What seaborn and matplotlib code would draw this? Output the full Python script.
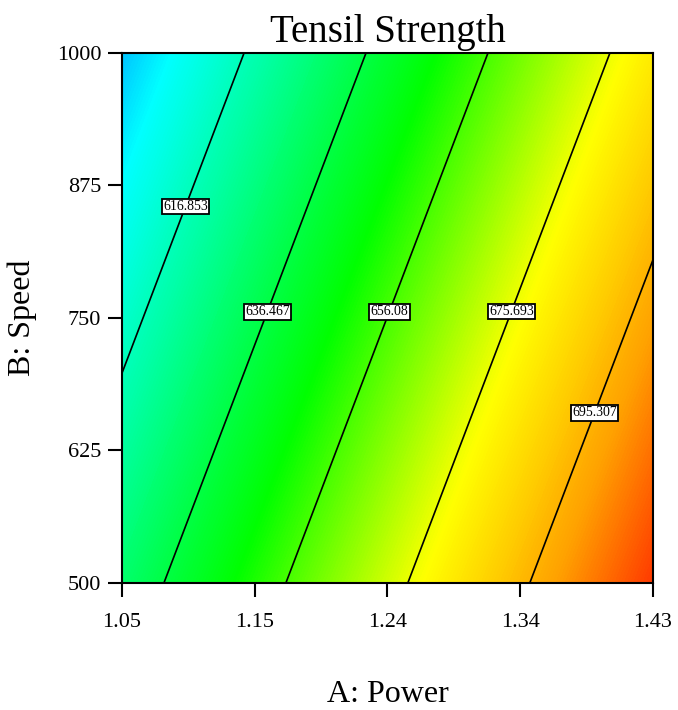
import matplotlib
matplotlib.use("Agg")
import matplotlib.pyplot as plt
from matplotlib.colors import LinearSegmentedColormap
import numpy
import pandas as pd
import seaborn as sns

# design points (A: Power, B: Speed) and predicted tensile strength
power = [1.05, 1.145, 1.24, 1.335, 1.43]
power_labels = ["1.05", "1.15", "1.24", "1.34", "1.43"]
speed = [500, 625, 750, 875, 1000]
speed_labels = ["500", "625", "750", "875", "1000"]

strength_500 = [629.73, 651.07, 672.42, 693.76, 715.11]
strength_625 = [621.60, 642.95, 664.30, 685.64, 706.99]
strength_750 = [613.48, 634.82, 656.17, 677.51, 698.86]
strength_875 = [605.36, 626.70, 648.05, 669.39, 690.74]
strength_1000 = [597.23, 618.57, 639.92, 661.26, 682.61]

levels = [616.853, 636.467, 656.08, 675.693, 695.307]

# where the contour labels sit
label_spots = [(1.0915, 857), (1.1516, 757), (1.239, 757), (1.327, 757), (1.387, 661)]

df = pd.DataFrame([strength_500, strength_625, strength_750, strength_875, strength_1000],
                  index=speed, columns=power)

# design-expert-ish colours
cmin, cmax = 597.0, 724.0
stops = [(597.0, "#00c3ff"), (605.0, "#00ffff"), (648.0, "#00ff00"),
         (678.0, "#ffff00"), (700.0, "#ffa000"), (724.0, "#ff0000")]
miColor = LinearSegmentedColormap.from_list(
    "de", [((v - cmin) / (cmax - cmin), c) for v, c in stops])

sns.set_theme(style="ticks")
plt.rcParams['font.family'] = ['Liberation Serif', 'DejaVu Serif']
plt.rcParams['text.color'] = "black"
plt.rcParams['axes.labelcolor'] = "black"
plt.rcParams['xtick.color'] = "black"
plt.rcParams['ytick.color'] = "black"

fig, ax = plt.subplots(figsize=(6.78, 7.10), dpi=100)
fig.subplots_adjust(left=0.18, right=0.963, bottom=0.179, top=0.9254)

X, Y = numpy.meshgrid(df.columns.values, df.index.values)
Z = df.values

ax.contourf(X, Y, Z, levels=numpy.linspace(590, 724, 269), cmap=miColor,
            vmin=cmin, vmax=cmax)
cs = ax.contour(X, Y, Z, levels=levels, colors="black", linewidths=1.2)
texts = ax.clabel(cs, inline=False, manual=label_spots,
                  fmt={lv: "%g" % lv for lv in levels}, fontsize=10)
for t in texts:
	t.set_rotation(0)
	t.set_color("black")
	t.set_bbox(dict(boxstyle="square,pad=0.1", facecolor="white",
	                edgecolor="black", linewidth=1.3))

ax.set_xlim(1.05, 1.43)
ax.set_ylim(500, 1000)
ax.set_xticks(power)
ax.set_xticklabels(power_labels)
ax.set_yticks(speed)
ax.set_yticklabels(speed_labels)
ax.tick_params(direction="out", length=10, width=1.5, labelsize=16)
ax.tick_params(axis="x", pad=12)
ax.tick_params(axis="y", pad=5)

for sp in ax.spines.values():
	sp.set_linewidth(1.5)
	sp.set_color("black")

ax.set_title("Tensil Strength", fontsize=28, pad=8, color="black")
ax.set_xlabel("A: Power", fontsize=23, labelpad=34)
ax.set_ylabel("B: Speed", fontsize=23, labelpad=14)

plt.savefig("out.png", dpi=100)
